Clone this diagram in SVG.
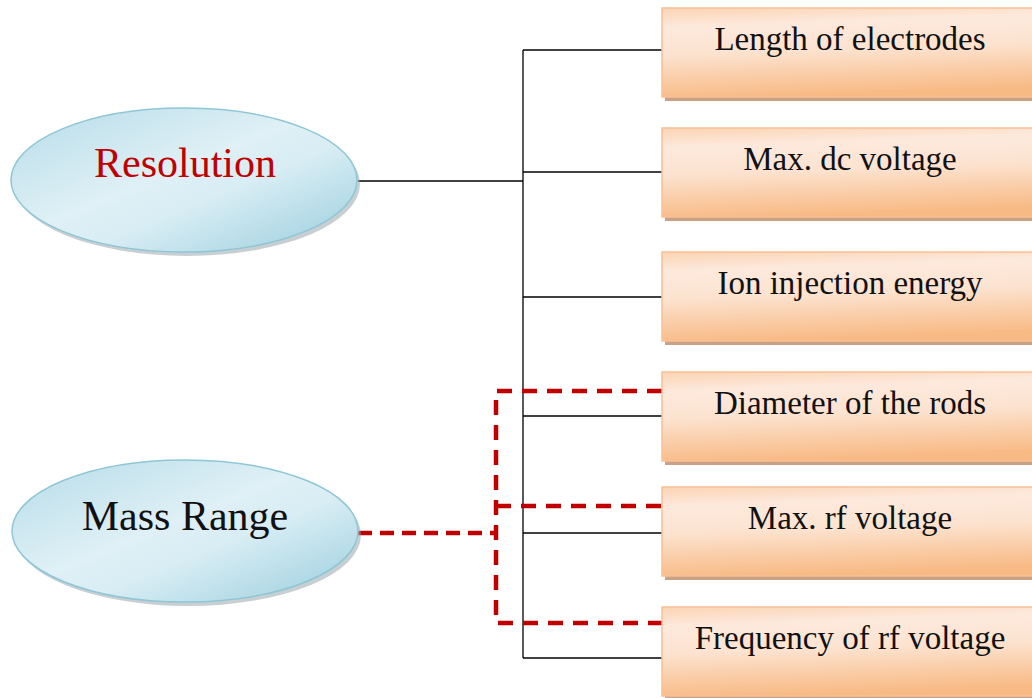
<svg xmlns="http://www.w3.org/2000/svg" width="1032" height="698" viewBox="0 0 1032 698">
<defs>
<linearGradient id="gEll" x1="0" y1="0" x2="1" y2="1">
<stop offset="0" stop-color="#b6dce8"/>
<stop offset="0.45" stop-color="#dff0f6"/>
<stop offset="0.6" stop-color="#d8edf4"/>
<stop offset="1" stop-color="#98cddd"/>
</linearGradient>
<linearGradient id="gBox" x1="0.1" y1="0" x2="0.25" y2="1">
<stop offset="0" stop-color="#fbd5b6"/>
<stop offset="0.2" stop-color="#fde9dc"/>
<stop offset="0.5" stop-color="#fce3d0"/>
<stop offset="1" stop-color="#f8ba85"/>
</linearGradient>
<style>
.ell{fill:url(#gEll);stroke:#8ec6d6;stroke-width:1.5}
.eshadow{fill:#9aa8ad;opacity:0.55}
.box{fill:url(#gBox);stroke:#f7c096;stroke-width:1.5}
.bshadow{fill:#c9a286}
.blk{stroke:#000;stroke-width:1.3;fill:none}
.red{stroke:#c00000;stroke-width:4.5;fill:none;stroke-dasharray:15 10}
</style>
</defs>
<g id="connectors">
<line class="blk" x1="523" y1="50" x2="523" y2="658"/>
<line class="blk" x1="358" y1="181" x2="523" y2="181"/>
<line class="blk" x1="523" y1="50" x2="662" y2="50"/>
<line class="blk" x1="523" y1="172" x2="662" y2="172"/>
<line class="blk" x1="523" y1="297" x2="662" y2="297"/>
<line class="blk" x1="523" y1="416" x2="662" y2="416"/>
<line class="blk" x1="523" y1="533" x2="662" y2="533"/>
<line class="blk" x1="523" y1="658" x2="662" y2="658"/>
<path class="red" d="M662 391 H496 V623 H662"/>
<line class="red" x1="496" y1="506" x2="662" y2="506"/>
<line class="red" x1="358" y1="533" x2="496" y2="533" style="stroke-dasharray:14 8"/>
</g>
<g font-family="Liberation Serif, Times New Roman, serif" text-anchor="middle" fill="#111">
<g id="resolution">
<ellipse class="eshadow" cx="187" cy="184" rx="173" ry="72"/>
<ellipse class="ell" cx="184" cy="180" rx="173" ry="72"/>
<text x="185" y="177" font-size="42" fill="#c00000">Resolution</text>
</g>
<g id="massrange">
<ellipse class="eshadow" cx="188" cy="535" rx="173" ry="71"/>
<ellipse class="ell" cx="185" cy="531" rx="173" ry="71"/>
<text x="185" y="530" font-size="42">Mass Range</text>
</g>
<g id="box1">
<rect class="bshadow" x="665" y="12" width="380" height="89"/>
<rect class="box" x="662" y="8" width="380" height="89"/>
<text x="850" y="50" font-size="33">Length of electrodes</text>
</g>
<g id="box2">
<rect class="bshadow" x="665" y="132" width="380" height="89"/>
<rect class="box" x="662" y="128" width="380" height="89"/>
<text x="850" y="170" font-size="33">Max. dc voltage</text>
</g>
<g id="box3">
<rect class="bshadow" x="665" y="256" width="380" height="89"/>
<rect class="box" x="662" y="252" width="380" height="89"/>
<text x="850" y="294" font-size="33">Ion injection energy</text>
</g>
<g id="box4">
<rect class="bshadow" x="665" y="376" width="380" height="89"/>
<rect class="box" x="662" y="372" width="380" height="89"/>
<text x="850" y="414" font-size="33">Diameter of the rods</text>
</g>
<g id="box5">
<rect class="bshadow" x="665" y="491" width="380" height="89"/>
<rect class="box" x="662" y="487" width="380" height="89"/>
<text x="850" y="529" font-size="33">Max. rf voltage</text>
</g>
<g id="box6">
<rect class="bshadow" x="665" y="611" width="380" height="89"/>
<rect class="box" x="662" y="607" width="380" height="89"/>
<text x="850" y="649" font-size="33">Frequency of rf voltage</text>
</g>
</g>
</svg>
